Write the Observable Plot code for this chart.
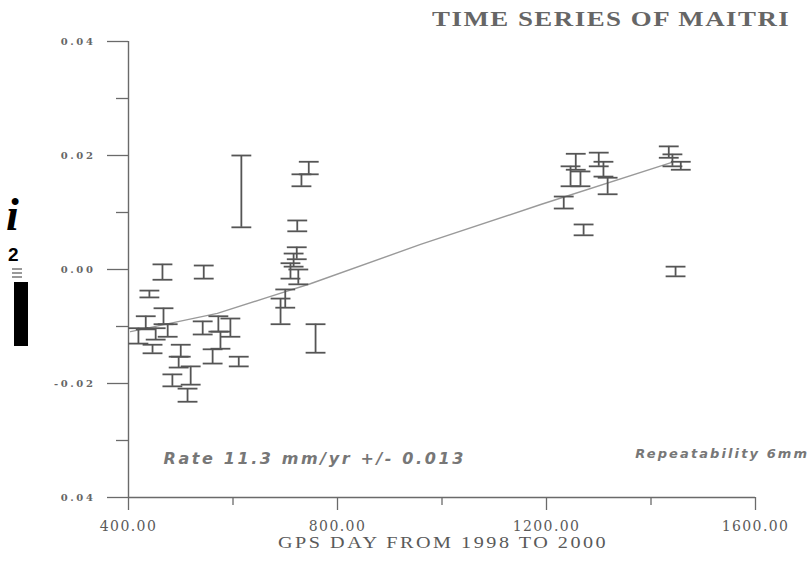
<!DOCTYPE html>
<html>
<head>
<meta charset="utf-8">
<script src="https://cdn.jsdelivr.net/npm/d3@7"></script>
<script src="https://cdn.jsdelivr.net/npm/@observablehq/plot@0.6"></script>
<style>
  body { margin: 0; background: #fff; }
  #wrap { position: relative; width: 810px; height: 564px; overflow: hidden; background: #fff; }
  #wrap svg { position: absolute; left: 0; top: 0; }
  g[aria-label="y-axis tick label"] text { font-family: "DejaVu Serif", serif; font-weight: bold; font-size: 10px; letter-spacing: 2.6px; fill: #666; }
  g[aria-label="x-axis tick label"] text { font-family: "DejaVu Serif", serif; font-size: 14px; letter-spacing: 1.4px; fill: #5a5a5a; }
  .title { position: absolute; left: 432px; top: 7px; font-family: "Liberation Serif", serif; font-weight: bold; font-size: 21.5px; letter-spacing: 1.2px; color: #666; white-space: nowrap; transform: scaleX(1.25); transform-origin: 0 0; }
  .xlabel { position: absolute; left: 278px; top: 534px; font-family: "Liberation Serif", serif; font-size: 16px; letter-spacing: 2px; color: #5a5a5a; white-space: nowrap; transform: scaleX(1.26); transform-origin: 0 0; }
  .art-i { position: absolute; left: 6px; top: 192px; font-family: "Liberation Serif", serif; font-weight: bold; font-style: italic; font-size: 46px; color: #000; line-height: 1; }
  .art-2 { position: absolute; left: 8px; top: 245px; font-family: "Liberation Sans", sans-serif; font-weight: bold; font-size: 19px; color: #000; line-height: 1; }
  .art-s { position: absolute; left: 12px; width: 10px; height: 2px; background: #999; }
  .art-bar { position: absolute; left: 14px; top: 282px; width: 14px; height: 64px; background: #000; }
</style>
</head>
<body>
<div id="wrap"></div>
<script>
// Error bars: GPS day, upper and lower ends (m)
const days = [616, 465, 544, 440, 745, 731, 723, 722, 716, 710, 725, 700, 691, 758,
              467, 433, 419, 475, 446, 500, 496, 484, 519, 513, 542, 572, 595, 576, 561, 611, 452,
              1256, 1246, 1265, 1300, 1309, 1317, 1233, 1271, 1434, 1441, 1457, 1447];
const upper = [0.0200, 0.0009, 0.0007, -0.0037, 0.0189, 0.0167, 0.0086, 0.0039, 0.0028, 0.0011, 0.0000, -0.0035, -0.0051, -0.0096,
               -0.0068, -0.0082, -0.0103, -0.0096, -0.0132, -0.0132, -0.0153, -0.0184, -0.0170, -0.0209, -0.0091, -0.0082, -0.0086, -0.0109, -0.0140, -0.0153, -0.0103,
               0.0203, 0.0181, 0.0172, 0.0205, 0.0189, 0.0161, 0.0128, 0.0079, 0.0216, 0.0202, 0.0189, 0.0005];
const lower = [0.0074, -0.0018, -0.0016, -0.0049, 0.0167, 0.0146, 0.0067, 0.0018, 0.0005, -0.0016, -0.0026, -0.0067, -0.0096, -0.0146,
               -0.0096, -0.0105, -0.0130, -0.0118, -0.0147, -0.0153, -0.0172, -0.0205, -0.0202, -0.0232, -0.0114, -0.0109, -0.0118, -0.0139, -0.0165, -0.0170, -0.0123,
               0.0175, 0.0146, 0.0146, 0.0181, 0.0163, 0.0132, 0.0107, 0.0060, 0.0196, 0.0181, 0.0175, -0.0012];

// Fitted trend line
const trendDays = [404, 570, 666, 748, 959, 1189, 1440];
const trendVals = [-0.0109, -0.0077, -0.0049, -0.0025, 0.0044, 0.0114, 0.0188];

// Ticks
const yTicks = [0.04, 0.02, 0.00, -0.02, -0.04];
const yTickLabels = ["0.04", "0.02", "0.00", "-0.02", "0.04"];
const yMinor = [0.03, 0.01, -0.01, -0.03];
const xTicks = [400, 800, 1200, 1600];
const xTickLabels = ["400.00", "800.00", "1200.00", "1600.00"];
const xMinor = [600, 1000, 1400];

const capHalf = 19; // days
const bars = days.map((d, i) => ({day: d, hi: upper[i], lo: lower[i]}));
const trend = trendDays.map((d, i) => ({day: d, v: trendVals[i]}));
const yLab = new Map(yTicks.map((t, i) => [t, yTickLabels[i]]));
const xLab = new Map(xTicks.map((t, i) => [t, xTickLabels[i]]));

const barColor = "#555";
const axisColor = "#6a6a6a";

const chart = Plot.plot({
  width: 810, height: 564,
  marginLeft: 128, marginRight: 55, marginTop: 41, marginBottom: 67,
  x: {domain: [400, 1600], label: null},
  y: {domain: [-0.04, 0.04], label: null},
  style: {background: "transparent", overflow: "visible"},
  marks: [
    Plot.ruleY([-0.04], {x1: 400, x2: 1600, stroke: axisColor, strokeWidth: 1.4}),
    Plot.ruleX([400], {y1: -0.04, y2: 0.04, stroke: axisColor, strokeWidth: 1.4}),
    Plot.axisY(yTicks, {tickSize: 21, tickPadding: 12, stroke: axisColor, strokeWidth: 1.3, tickFormat: d => yLab.get(d)}),
    Plot.axisY(yMinor, {tickSize: 12, stroke: axisColor, strokeWidth: 1.3, tickFormat: () => ""}),
    Plot.axisX(xTicks, {tickSize: 13, tickPadding: 11, stroke: axisColor, strokeWidth: 1.3, tickFormat: d => xLab.get(d)}),
    Plot.axisX(xMinor, {tickSize: 8, stroke: axisColor, strokeWidth: 1.3, tickFormat: () => ""}),
    Plot.line(trend, {x: "day", y: "v", stroke: "#9a9a9a", strokeWidth: 1.4}),
    Plot.ruleX(bars, {x: "day", y1: "lo", y2: "hi", stroke: barColor, strokeWidth: 1.8}),
    Plot.link(bars, {x1: d => d.day - capHalf, x2: d => d.day + capHalf, y1: "hi", y2: "hi", stroke: barColor, strokeWidth: 1.8}),
    Plot.link(bars, {x1: d => d.day - capHalf, x2: d => d.day + capHalf, y1: "lo", y2: "lo", stroke: barColor, strokeWidth: 1.8}),
    Plot.text(["Rate 11.3 mm/yr +/- 0.013"], {x: 467, y: -0.0332, textAnchor: "start", fontFamily: "DejaVu Sans, sans-serif", fontWeight: "bold", fontStyle: "italic", fontSize: 16, fill: "#777"}),
    Plot.text(["Repeatability 6mm"], {x: 1370, y: -0.0324, textAnchor: "start", fontFamily: "DejaVu Sans, sans-serif", fontWeight: "bold", fontStyle: "italic", fontSize: 13, fill: "#777"})
  ]
});

// letter spacing for the two annotations (scan-stretched lettering)
const textGroups = chart.querySelectorAll('g[aria-label="text"]');
if (textGroups[0]) textGroups[0].style.letterSpacing = "2.6px";
if (textGroups[1]) textGroups[1].style.letterSpacing = "2.1px";

const wrap = document.getElementById("wrap");
wrap.appendChild(chart);
wrap.insertAdjacentHTML("beforeend",
  '<div class="title">TIME SERIES OF MAITRI</div>' +
  '<div class="xlabel">GPS DAY FROM 1998 TO 2000</div>' +
  '<div class="art-i">i</div>' +
  '<div class="art-2">2</div>' +
  '<div class="art-s" style="top:268px"></div>' +
  '<div class="art-s" style="top:272px"></div>' +
  '<div class="art-s" style="top:276px"></div>' +
  '<div class="art-bar"></div>');
</script>
</body>
</html>
